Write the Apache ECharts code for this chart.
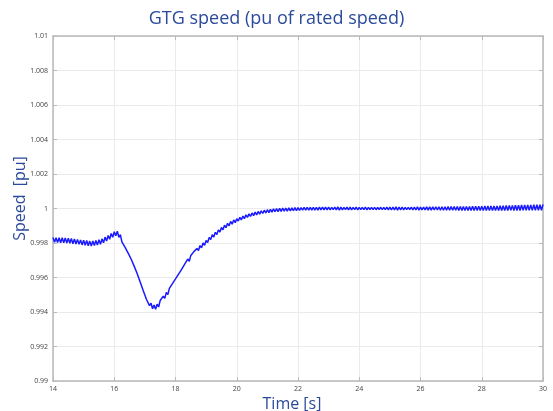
<!DOCTYPE html>
<html>
<head>
<meta charset="utf-8">
<script src="https://cdn.jsdelivr.net/npm/echarts@6/dist/echarts.min.js"></script>
<style>
  html, body { margin: 0; padding: 0; background: #fff; }
  #chart { width: 553px; height: 411px; }
</style>
</head>
<body>
<div id="chart"></div>
<script>
// ── GTG speed trace, sampled every 0.05 s from 14 s to 30 s ──

const xTicks = [14, 16, 18, 20, 22, 24, 26, 28, 30];
const yTicks = [0.99, 0.992, 0.994, 0.996, 0.998, 1, 1.002, 1.004, 1.006, 1.008, 1.01];
const tStart = 14, tStep = 0.05;

const speed = [
  0.99832, 0.99804, 0.99831, 0.99803, 0.99830, 0.99802, 0.99830, 0.99801, 0.99829, 0.99800,
  0.99828, 0.99799, 0.99826, 0.99796, 0.99823, 0.99794, 0.99821, 0.99792, 0.99818, 0.99789,
  0.99816, 0.99787, 0.99814, 0.99784, 0.99811, 0.99783, 0.99812, 0.99785, 0.99814, 0.99788,
  0.99819, 0.99793, 0.99824, 0.99801, 0.99834, 0.99811, 0.99844, 0.99822, 0.99855, 0.99833,
  0.99865, 0.99842, 0.99868, 0.99833, 0.99848, 0.99807, 0.99818, 0.99776, 0.99785, 0.99743,
  0.99753, 0.99707, 0.99713, 0.99666, 0.99671, 0.99622, 0.99625, 0.99573, 0.99573, 0.99522,
  0.99523, 0.99474, 0.99478, 0.99437, 0.99451, 0.99419, 0.99441, 0.99416, 0.99445, 0.99429,
  0.99467, 0.99456, 0.99492, 0.99479, 0.99514, 0.99501, 0.99537, 0.99527, 0.99565, 0.99554,
  0.99592, 0.99582, 0.99620, 0.99609, 0.99647, 0.99638, 0.99677, 0.99668, 0.99707, 0.99694,
  0.99728, 0.99719, 0.99750, 0.99739, 0.99768, 0.99756, 0.99785, 0.99772, 0.99800, 0.99787,
  0.99815, 0.99803, 0.99832, 0.99820, 0.99848, 0.99835, 0.99862, 0.99849, 0.99876, 0.99863,
  0.99890, 0.99876, 0.99903, 0.99889, 0.99914, 0.99900, 0.99925, 0.99909, 0.99934, 0.99918,
  0.99941, 0.99927, 0.99949, 0.99934, 0.99956, 0.99941, 0.99963, 0.99948, 0.99969, 0.99954,
  0.99974, 0.99959, 0.99979, 0.99963, 0.99983, 0.99967, 0.99987, 0.99971, 0.99990, 0.99974,
  0.99993, 0.99976, 0.99995, 0.99979, 0.99998, 0.99981, 0.99999, 0.99982, 1.00001, 0.99983,
  1.00002, 0.99984, 1.00003, 0.99985, 1.00004, 0.99986, 1.00004, 0.99987, 1.00005, 0.99987,
  1.00005, 0.99989, 1.00005, 0.99990, 1.00006, 0.99990, 1.00006, 0.99990, 1.00007, 0.99991,
  1.00007, 0.99991, 1.00007, 0.99991, 1.00008, 0.99992, 1.00008, 0.99992, 1.00008, 0.99992,
  1.00008, 0.99992, 1.00007, 0.99993, 1.00008, 0.99992, 1.00009, 0.99991, 1.00008, 0.99992,
  1.00007, 0.99993, 1.00008, 0.99992, 1.00008, 0.99992, 1.00007, 0.99993, 1.00008, 0.99992,
  1.00007, 0.99993, 1.00007, 0.99993, 1.00008, 0.99992, 1.00007, 0.99993, 1.00007, 0.99993,
  1.00007, 0.99993, 1.00006, 0.99994, 1.00007, 0.99993, 1.00007, 0.99993, 1.00008, 0.99992,
  1.00008, 0.99992, 1.00008, 0.99992, 1.00009, 0.99991, 1.00008, 0.99992, 1.00008, 0.99992,
  1.00007, 0.99993, 1.00007, 0.99993, 1.00008, 0.99992, 1.00008, 0.99992, 1.00009, 0.99991,
  1.00008, 0.99992, 1.00008, 0.99992, 1.00009, 0.99991, 1.00009, 0.99991, 1.00009, 0.99992,
  1.00010, 0.99991, 1.00010, 0.99990, 1.00010, 0.99990, 1.00010, 0.99990, 1.00011, 0.99990,
  1.00011, 0.99990, 1.00011, 0.99990, 1.00011, 0.99989, 1.00012, 0.99989, 1.00012, 0.99989,
  1.00012, 0.99989, 1.00012, 0.99989, 1.00013, 0.99989, 1.00013, 0.99989, 1.00013, 0.99988,
  1.00013, 0.99989, 1.00014, 0.99988, 1.00014, 0.99988, 1.00014, 0.99988, 1.00015, 0.99988,
  1.00015, 0.99988, 1.00016, 0.99988, 1.00016, 0.99988, 1.00017, 0.99988, 1.00017, 0.99989,
  1.00018, 0.99988, 1.00019, 0.99988, 1.00019, 0.99988, 1.00020, 0.99989, 1.00020, 0.99989,
  1.00021, 0.99989, 1.00021, 0.99989, 1.00022, 0.99990, 1.00022, 0.99990, 1.00022, 0.99990,
  1.00024
];

const points = speed.map((v, i) => [tStart + i * tStep, v]);

const chart = echarts.init(document.getElementById('chart'));
const font = '"Open Sans", "DejaVu Sans", sans-serif';
const frame = { lineStyle: { color: '#b9b9b9', width: 1.5 } };
const tickIn = { inside: true, length: 4, lineStyle: { color: '#b9b9b9' } };

chart.setOption({
  backgroundColor: '#fff',
  animation: false,
  title: {
    text: 'GTG speed (pu of rated speed)', left: 'center', top: 5,
    textStyle: { color: '#2b4a9b', fontSize: 18, fontWeight: 'normal', fontFamily: font },
  },
  grid: { left: 53, right: 10, top: 36, bottom: 30, outerBoundsMode: 'none' },
  xAxis: [{
    type: 'value', min: xTicks[0], max: xTicks[xTicks.length - 1], interval: 2,
    name: 'Time [s]', nameLocation: 'middle', nameGap: 13,
    nameTextStyle: { color: '#2b4a9b', fontSize: 16, fontFamily: font, padding: [0, 12, 0, 0] },
    axisLine: frame, axisTick: tickIn,
    axisLabel: { color: '#444', fontSize: 7, margin: 4, fontFamily: font },
    splitLine: { show: true, lineStyle: { color: '#ebebeb', width: 1 } },
  }, {
    type: 'value', position: 'top', min: xTicks[0], max: xTicks[xTicks.length - 1], interval: 2,
    axisLine: frame, axisTick: tickIn, axisLabel: { show: false }, splitLine: { show: false },
  }],
  yAxis: [{
    type: 'value', min: yTicks[0], max: yTicks[yTicks.length - 1], interval: 0.002,
    name: 'Speed  [pu]', nameLocation: 'middle', nameGap: 25, nameMoveOverlap: false,
    nameTextStyle: { color: '#2b4a9b', fontSize: 16, fontFamily: font, padding: [0, 0, 0, 20] },
    axisLine: frame, axisTick: tickIn,
    axisLabel: { color: '#444', fontSize: 7, margin: 5, fontFamily: font, formatter: v => String(parseFloat(v.toFixed(3))) },
    splitLine: { show: true, lineStyle: { color: '#ebebeb', width: 1 } },
  }, {
    type: 'value', position: 'right', min: yTicks[0], max: yTicks[yTicks.length - 1], interval: 0.002,
    axisLine: frame, axisTick: tickIn, axisLabel: { show: false }, splitLine: { show: false },
  }],
  series: [{
    type: 'line', data: points, showSymbol: false, smooth: false,
    lineStyle: { color: '#1a1aff', width: 1.5 },
  }],
});
</script>
</body>
</html>
